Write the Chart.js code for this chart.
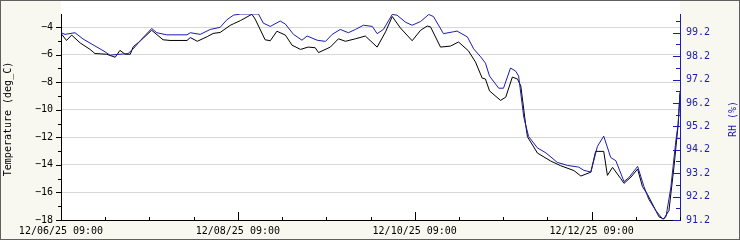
<!DOCTYPE html>
<html>
<head>
  <script src="https://cdn.jsdelivr.net/npm/chart.js"></script>
  <style>
    body { margin: 0; background: #f8f8f0; }
  </style>
</head>
<body>
  <canvas id="myChart" width="740" height="240"></canvas>

  <script>
    // hours since 12/06/25 09:00
    const tempHours = [0,1.5,2.9,5.2,7.9,9.2,12.4,14.7,16.0,17.4,18.8,19.6,21.5,24.6,27.7,29.6,34.2,35.1,37.0,39.7,41.3,43.2,45.9,46.8,48.7,51.8,52.7,55.4,56.8,58.6,60.9,62.7,65.0,67.1,69.0,69.9,73.1,75.3,77.2,79.9,82.6,85.8,88.1,89.9,92.1,95.3,97.6,99.4,100.3,103.0,105.7,107.9,110.6,112.5,114.3,115.2,116.3,119.3,120.7,122.5,123.9,124.8,126.1,126.6,129.3,132.9,135.6,139.2,141.1,143.8,145.1,147.3,148.3,149.7,151.9,152.8,154.7,156.5,157.8,159.2,162.3,163.6,165.0,166.4,167.5,168];
    const temps = [-4.46,-4.97,-4.58,-5.15,-5.62,-5.92,-5.97,-6.19,-5.69,-5.97,-5.97,-5.43,-5.01,-4.23,-4.92,-4.97,-4.97,-4.76,-5.03,-4.69,-4.46,-4.39,-3.88,-3.76,-3.53,-3.07,-3.42,-4.92,-4.99,-4.30,-4.58,-5.31,-5.62,-5.45,-5.50,-5.85,-5.45,-4.85,-5.03,-4.85,-4.65,-5.45,-4.34,-3.23,-4.06,-4.99,-4.23,-3.92,-3.99,-5.45,-5.38,-5.08,-5.73,-6.54,-7.70,-7.77,-8.63,-9.32,-9.09,-7.63,-7.77,-8.28,-11.06,-11.96,-13.14,-13.72,-14.06,-14.41,-14.81,-14.53,-13.02,-13.02,-14.76,-14.18,-14.99,-15.34,-14.88,-14.30,-15.57,-16.15,-17.77,-17.93,-17.31,-14.06,-11.06,-8.83];

    const rhHours = [0,1.1,3.8,6.0,10.6,12.0,13.3,15.1,16.9,18.2,19.6,21.5,24.6,26.0,28.7,34.2,35.1,37.8,40.5,43.2,45.0,46.8,48.7,53.6,54.9,56.8,59.5,60.9,63.1,65.4,66.8,69.5,71.8,73.6,75.8,78.0,79.9,82.1,84.5,85.8,87.5,89.9,91.2,93.5,95.3,97.6,99.8,101.1,103.8,106.5,107.5,110.3,112.0,113.9,115.2,116.3,118.8,120.1,122.0,123.4,124.2,125.6,126.9,129.3,131.6,134.7,137.5,140.5,141.9,143.8,145.6,147.3,149.2,150.6,152.8,154.1,156.5,158.2,159.5,161.4,163.3,164.2,165.5,166.9,167.5,168];
    const rhs = [99.2,99.13,99.2,98.93,98.51,98.38,98.24,98.27,98.29,98.31,98.51,98.86,99.38,99.2,99.11,99.11,99.2,99.13,99.34,99.43,99.75,99.95,100,100,99.61,99.47,99.7,99.57,99.13,98.88,99.06,98.88,98.83,99.13,99.34,99.2,99.34,99.52,99.47,99.16,99.34,99.98,99.95,99.65,99.52,99.68,99.98,99.89,99.16,99.24,99.27,99.02,98.51,98.17,97.9,97.35,96.83,96.83,97.69,97.56,97.35,95.59,94.77,94.28,94.07,93.66,93.53,93.46,93.32,93.25,94.35,94.78,93.87,93.73,92.84,93.01,93.49,92.64,92.09,91.61,91.24,91.34,92.57,94.62,95.3,96.67];

    // axis ticks
    const xTickHours = [0, 48, 96, 144];
    const xTickLabels = ['12/06/25 09:00', '12/08/25 09:00', '12/10/25 09:00', '12/12/25 09:00'];
    const tempTicks = [-18, -16, -14, -12, -10, -8, -6, -4];
    const rhTicks = [91.2, 92.2, 93.2, 94.2, 95.2, 96.2, 97.2, 98.2, 99.2];

    const BLUE = '#1c1cb0';

    // фон, рамка, засічки та підписи осей
    const framePlugin = {
      id: 'frame',
      beforeDraw(chart) {
        const { ctx, chartArea: a, width, height } = chart;
        ctx.save();
        ctx.fillStyle = '#f8f8f0';
        ctx.fillRect(0, 0, width, height);
        ctx.fillStyle = '#ffffff';
        ctx.fillRect(a.left, 1, a.right - a.left, a.bottom - 1);
        ctx.restore();
      },
      afterDraw(chart) {
        const { ctx, chartArea: a, scales } = chart;
        ctx.save();
        ctx.lineWidth = 1;

        // нижня вісь: кожні 12 год, великі кожні 48 год
        ctx.strokeStyle = '#000';
        ctx.beginPath();
        for (let h = 0; h <= 168; h += 12) {
          const x = Math.round(scales.x.getPixelForValue(h)) + 0.5;
          const len = h % 48 === 0 ? 8 : 3;
          ctx.moveTo(x, a.bottom);
          ctx.lineTo(x, a.bottom - len);
        }
        // ліва вісь
        for (let v = -18; v <= -4; v += 1) {
          const y = Math.round(scales.y.getPixelForValue(v)) + 0.5;
          const len = v % 2 === 0 ? 5 : 3;
          ctx.moveTo(a.left, y);
          ctx.lineTo(a.left - len, y);
        }
        ctx.stroke();

        // права вісь
        ctx.strokeStyle = BLUE;
        ctx.beginPath();
        for (let i = 0; i <= 17; i++) {
          const v = 91.2 + i * 0.5;
          const y = Math.round(scales.y1.getPixelForValue(v)) + 0.5;
          const len = i % 2 === 0 ? 7 : 4;
          ctx.moveTo(a.right, y);
          ctx.lineTo(a.right - len, y);
        }
        ctx.stroke();

        // назви осей
        ctx.font = '10px "DejaVu Sans Mono"';
        ctx.textAlign = 'center';
        ctx.textBaseline = 'middle';
        const mid = (a.top + a.bottom) / 2 + 2;
        ctx.fillStyle = '#000';
        ctx.translate(8, mid);
        ctx.rotate(-Math.PI / 2);
        ctx.fillText('Temperature (deg_C)', 0, 0);
        ctx.setTransform(1, 0, 0, 1, 0, 0);
        ctx.fillStyle = BLUE;
        ctx.translate(733, mid);
        ctx.rotate(-Math.PI / 2);
        ctx.fillText('RH (%)', 0, 0);
        ctx.setTransform(1, 0, 0, 1, 0, 0);

        // рамка
        ctx.strokeStyle = '#606060';
        ctx.strokeRect(0.5, 0.5, chart.width - 1, chart.height - 1);
        ctx.restore();
      }
    };

    Chart.defaults.font.family = '"DejaVu Sans Mono"';
    Chart.defaults.font.size = 10;

    const ctx = document.getElementById('myChart').getContext('2d');
    new Chart(ctx, {
      type: 'line',
      data: {
        datasets: [
          {
            label: 'RH',
            data: rhHours.map((h, i) => ({ x: h, y: rhs[i] })),
            yAxisID: 'y1',
            borderColor: BLUE,
            borderWidth: 1,
            pointRadius: 0,
            tension: 0
          },
          {
            label: 'Temperature',
            data: tempHours.map((h, i) => ({ x: h, y: temps[i] })),
            yAxisID: 'y',
            borderColor: '#000000',
            borderWidth: 1,
            pointRadius: 0,
            tension: 0
          }
        ]
      },
      options: {
        responsive: false,
        animation: false,
        layout: { padding: { top: 5, left: 0, right: 0, bottom: 0 } },
        plugins: { legend: { display: false }, tooltip: { enabled: false } },
        scales: {
          x: {
            type: 'linear',
            min: 0,
            max: 168,
            afterFit: s => { s.height = 20; },
            afterBuildTicks: s => { s.ticks = xTickHours.map(v => ({ value: v })); },
            grid: { display: false, drawTicks: false },
            border: { display: true, color: '#000' },
            ticks: {
              autoSkip: false,
              maxRotation: 0,
              padding: 5,
              color: '#000',
              callback: (v, i) => xTickLabels[i]
            }
          },
          y: {
            position: 'left',
            min: -18,
            max: -3.05,
            afterFit: s => { s.width = 61; },
            afterBuildTicks: s => { s.ticks = tempTicks.map(v => ({ value: v })); },
            grid: {
              drawTicks: false,
              color: c => (c.tick && c.tick.value === -18 ? 'rgba(0,0,0,0)' : '#d8d8d8')
            },
            border: { display: true, color: '#000' },
            ticks: {
              padding: 8,
              color: '#000',
              callback: v => String(v).replace('-', '\u2212')
            }
          },
          y1: {
            position: 'right',
            min: 91.2,
            max: 100,
            afterFit: s => { s.width = 60; },
            afterBuildTicks: s => { s.ticks = rhTicks.map(v => ({ value: v })); },
            grid: { display: false, drawTicks: false },
            border: { display: true, color: BLUE },
            ticks: {
              padding: 6,
              color: BLUE,
              callback: v => v.toFixed(1)
            }
          }
        }
      },
      plugins: [framePlugin]
    });
  </script>
</body>
</html>
